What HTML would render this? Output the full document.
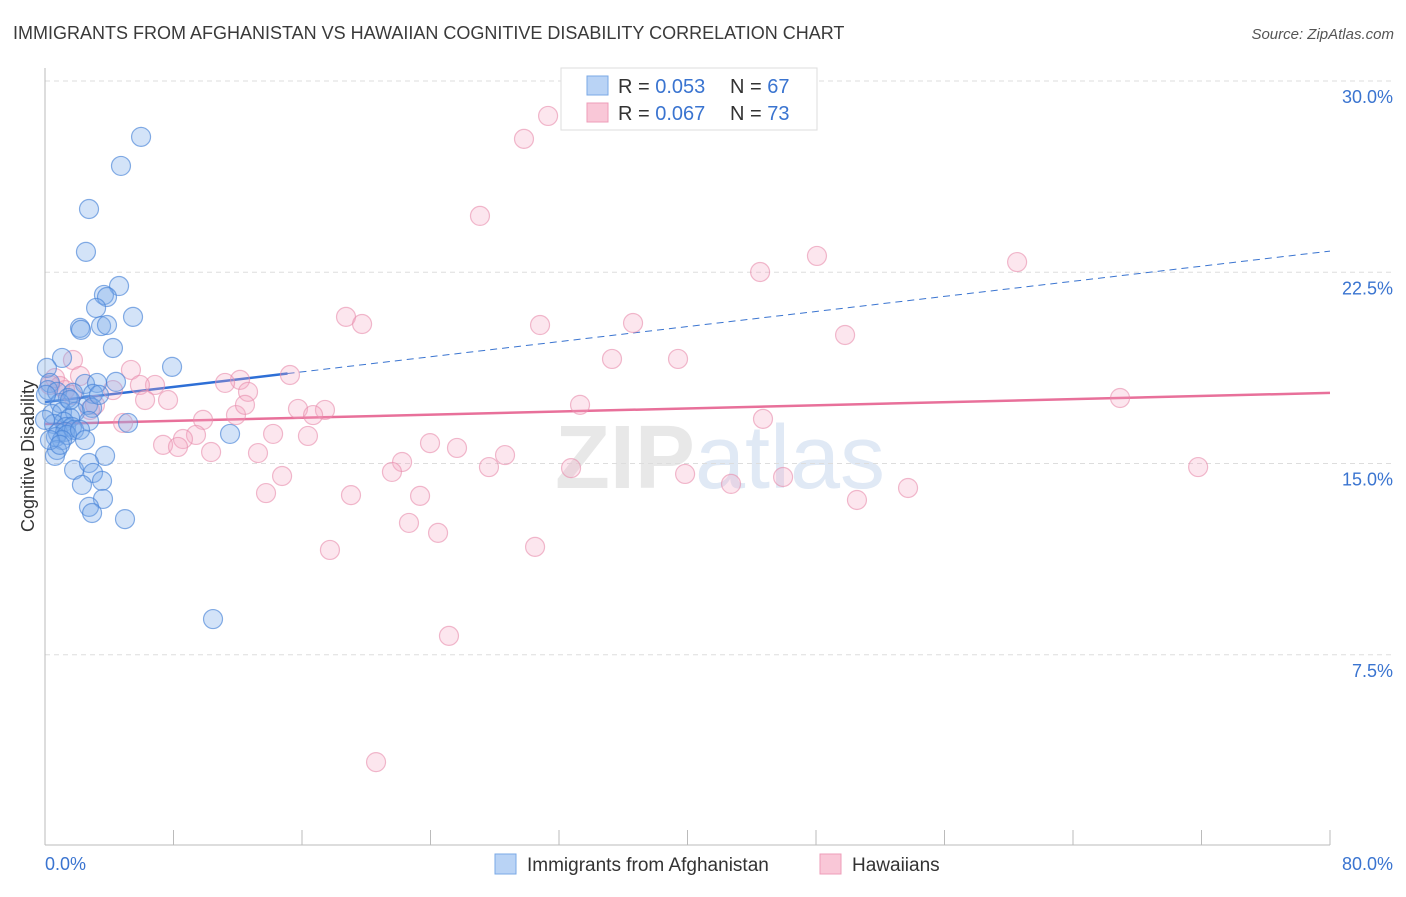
<!DOCTYPE html>
<html><head><meta charset="utf-8"><style>
body{margin:0;background:#fff;font-family:"Liberation Sans",sans-serif;}
svg text{font-family:"Liberation Sans",sans-serif;}
</style></head><body>
<svg id="chart" width="1406" height="892" xmlns="http://www.w3.org/2000/svg">
<text x="13" y="39" font-size="18" fill="#3a3a3a">IMMIGRANTS FROM AFGHANISTAN VS HAWAIIAN COGNITIVE DISABILITY CORRELATION CHART</text>
<text x="1394" y="39" font-size="15" fill="#555" font-style="italic" text-anchor="end">Source: ZipAtlas.com</text>
<text x="720" y="488" font-size="90" text-anchor="middle" font-family="Liberation Serif"><tspan fill="#e8e8e8" font-weight="bold">ZIP</tspan><tspan fill="#e0e9f5" font-family="Liberation Sans">atlas</tspan></text>
<g id="grid"></g><g id="axes"></g><g id="trend"></g><g id="pts"></g>
<text transform="translate(34,456) rotate(-90)" font-size="18" fill="#333" text-anchor="middle">Cognitive Disability</text>
<g>
<rect x="561" y="68" width="256" height="62" fill="#fff" stroke="#ddd"/>
<rect x="587" y="76" width="21" height="19" fill="#b9d3f5" stroke="#7aa8e6"/>
<rect x="587" y="103" width="21" height="19" fill="#f9c7d7" stroke="#ee9cb8"/>
<text x="618" y="93" font-size="20" fill="#333">R = <tspan fill="#3a74d0">0.053</tspan></text>
<text x="730" y="93" font-size="20" fill="#333">N = <tspan fill="#3a74d0">67</tspan></text>
<text x="618" y="120" font-size="20" fill="#333">R = <tspan fill="#3a74d0">0.067</tspan></text>
<text x="730" y="120" font-size="20" fill="#333">N = <tspan fill="#3a74d0">73</tspan></text>
</g>
<g>
<rect x="495" y="854" width="21" height="20" fill="#b9d3f5" stroke="#7aa8e6"/>
<text x="527" y="871" font-size="19" fill="#333">Immigrants from Afghanistan</text>
<rect x="820" y="854" width="21" height="20" fill="#f9c7d7" stroke="#ee9cb8"/>
<text x="852" y="871" font-size="19" fill="#333">Hawaiians</text>
</g>
</svg>
<script>
const blueX=[5.98,4.73,2.74,2.55,4.61,3.67,3.86,3.18,5.48,2.18,2.24,3.49,3.86,4.23,1.06,7.91,0.12,0.31,0.19,0.75,2.49,3.24,4.42,1.74,2.99,1.43,0.93,2.68,0.44,1.06,1.87,2.93,1.56,1.18,2.74,0.56,1.31,1.68,5.17,0.81,1.25,1.81,0.68,1.37,1.06,11.52,3.74,0.75,0.62,1.81,2.74,2.99,3.55,2.30,3.61,2.74,2.93,4.98,10.46,0.00,0.06,0.31,2.18,0.93,2.49,1.56,3.36];
const blueY=[27.81,26.67,24.98,23.30,21.96,21.61,21.53,21.10,20.75,20.32,20.24,20.39,20.43,19.53,19.14,18.79,18.75,18.16,17.88,17.81,18.12,18.16,18.20,17.77,17.73,17.57,17.37,17.30,16.94,17.02,17.02,17.18,16.79,16.63,16.67,16.55,16.43,16.43,16.59,16.20,16.24,16.32,16.04,16.12,15.92,16.16,15.30,15.53,15.30,14.75,15.02,14.63,14.32,14.16,13.61,13.30,13.06,12.82,8.90,16.71,17.69,15.92,16.32,15.73,15.92,17.49,17.69];
const pinkX=[31.32,29.82,27.08,48.06,44.52,60.52,18.74,19.74,30.82,36.61,49.81,35.30,39.41,1.74,15.25,0.62,2.18,5.35,12.14,11.21,6.85,5.91,4.23,12.64,7.66,6.23,3.11,0.93,1.25,0.31,33.31,15.75,17.43,16.69,11.89,9.84,44.70,66.93,4.86,14.20,16.37,9.40,8.59,7.35,8.28,23.97,25.65,10.34,13.26,28.64,22.23,27.64,32.75,21.60,39.85,45.95,42.71,14.76,53.73,13.76,19.05,23.35,50.55,22.66,24.47,17.74,30.51,25.15,20.61,71.79,12.45,2.80,1.68];
const pinkY=[28.63,27.73,24.71,23.14,22.51,22.90,20.75,20.47,20.43,20.51,20.04,19.10,19.10,19.06,18.47,18.35,18.43,18.67,18.28,18.16,18.08,18.08,17.88,17.81,17.49,17.49,17.30,18.04,17.88,18.08,17.30,17.14,17.10,16.90,16.90,16.71,16.75,17.57,16.59,16.16,16.08,16.12,15.96,15.73,15.65,15.80,15.61,15.45,15.41,15.33,15.06,14.86,14.82,14.67,14.59,14.47,14.20,14.51,14.04,13.84,13.76,13.73,13.57,12.67,12.28,11.61,11.73,8.24,3.29,14.86,17.30,17.10,17.69];
const yTicks=[7.5,15,22.5,30];
const yTickLabels=["7.5%","15.0%","22.5%","30.0%"];
const xTicks=[0,8,16,24,32,40,48,56,64,72,80];
const blueTrend=[17.41,23.33];
const blueSolidEnd=15.1;
const pinkTrend=[16.55,17.77];

const NS="http://www.w3.org/2000/svg";
const sx=v=>45+v*1285/80, sy=v=>846-v*765/30;
function mk(tag,attrs,parent){const e=document.createElementNS(NS,tag);for(const k in attrs)e.setAttribute(k,attrs[k]);document.getElementById(parent).appendChild(e);return e;}
yTicks.forEach((t,i)=>{
  const g=mk('line',{x1:45,x2:1393,y1:sy(t),y2:sy(t),stroke:'#ddd','stroke-dasharray':'5,4'},'grid');
  
  
  const tx=mk('text',{x:1393,y:sy(t)+22,'font-size':18,fill:'#3a74d0','text-anchor':'end'},'axes');
  tx.textContent=yTickLabels[i];
  
  
});
const ya=mk('line',{x1:45,x2:45,y1:68,y2:845,stroke:'#bbb'},'axes');


const xa=mk('line',{x1:45,x2:1330,y1:845,y2:845,stroke:'#bbb'},'axes');


xTicks.forEach(t=>{
  const l=mk('line',{x1:sx(t),x2:sx(t),y1:830,y2:845,stroke:'#bbb'},'axes');
  
  
});
const xl0=mk('text',{x:45,y:870,'font-size':18,fill:'#3a74d0'},'axes');xl0.textContent=xTicks[0].toFixed(1)+'%';


const xl1=mk('text',{x:1393,y:870,'font-size':18,fill:'#3a74d0','text-anchor':'end'},'axes');xl1.textContent=xTicks[xTicks.length-1].toFixed(1)+'%';


function draw(xs,ys,fill,stroke,name){xs.forEach((x,i)=>{
  const c=mk('circle',{cx:sx(x),cy:sy(ys[i]),r:9.5,fill:fill,stroke:stroke,'stroke-width':1.2},'pts');
  
  
});}
draw(pinkX,pinkY,'rgba(244,165,195,0.28)','rgba(232,140,172,0.6)','hawaiian-point');
draw(blueX,blueY,'rgba(120,170,235,0.33)','rgba(70,130,215,0.65)','afghanistan-point');
const bAt=x=>blueTrend[0]+(blueTrend[1]-blueTrend[0])*x/80;
const bd=mk('line',{x1:sx(blueSolidEnd),y1:sy(bAt(blueSolidEnd)),x2:sx(80),y2:sy(blueTrend[1]),stroke:'#3a74d0','stroke-width':1,'stroke-dasharray':'7,5'},'trend');


const bs=mk('line',{x1:sx(0),y1:sy(blueTrend[0]),x2:sx(blueSolidEnd),y2:sy(bAt(blueSolidEnd)),stroke:'#2e6fd6','stroke-width':2.5},'trend');


const pl=mk('line',{x1:sx(0),y1:sy(pinkTrend[0]),x2:sx(80),y2:sy(pinkTrend[1]),stroke:'#e8709a','stroke-width':2.5},'trend');


</script>
</body></html>
